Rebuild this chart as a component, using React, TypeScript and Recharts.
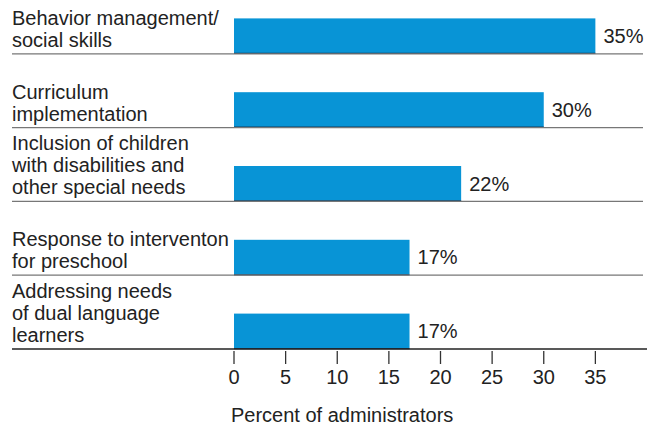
import React from 'react';
import { BarChart, Bar, XAxis, YAxis, LabelList } from 'recharts';

const categories = [
  'Behavior management/\nsocial skills',
  'Curriculum\nimplementation',
  'Inclusion of children\nwith disabilities and\nother special needs',
  'Response to interventon\nfor preschool',
  'Addressing needs\nof dual language\nlearners',
];
const values = [35, 30, 22, 17, 17];
const xTicks = [0, 5, 10, 15, 20, 25, 30, 35];
const axisTitle = 'Percent of administrators';

const data = categories.map((name, i) => ({ name, value: values[i] }));

const FONT = '"Liberation Sans", Arial, Helvetica, sans-serif';
const BAND_HALF = 36.9;
const BAR_SIZE = 35;
const SHIFT = BAND_HALF - BAR_SIZE / 2;
const BAR_COLOR = '#0894d6';
const TEXT = '#222';

const YTick = (props: any) => {
  const { y, payload } = props;
  const lines = String(payload.value).split('\n');
  const bottom = y + BAND_HALF;
  const isLast = payload.value === categories[categories.length - 1];
  return (
    <g>
      <line x1={12} x2={isLast ? 234 : 643} y1={bottom} y2={bottom} stroke={isLast ? '#222' : '#777'} strokeWidth={1.3} />
      <text fontSize={20} fill={TEXT} fontFamily={FONT}>
        {lines.map((l, i) => (
          <tspan key={i} x={12} y={bottom - 7 - (lines.length - 1 - i) * 22}>{l}</tspan>
        ))}
      </text>
    </g>
  );
};

const XTick = (props: any) => {
  const { x, y, payload } = props;
  return (
    <g>
      <line x1={x} x2={x} y1={y - 19} y2={y - 6} stroke="#333" strokeWidth={1.3} />
      <text x={x} y={y} dy="0.71em" textAnchor="middle" fontSize={20} fill={TEXT} fontFamily={FONT}>{payload.value}</text>
    </g>
  );
};

const BarShape = (p: any) => (
  <g>
    <rect x={p.x} y={p.y + SHIFT} width={p.width} height={p.height} fill={BAR_COLOR} />
    <line x1={p.x} x2={p.x + p.width} y1={p.y + SHIFT + p.height} y2={p.y + SHIFT + p.height} stroke="#163d5c" strokeWidth={1.3} />
  </g>
);

const ValueLabel = (p: any) => (
  <text x={p.x + p.width + 8} y={p.y + SHIFT + p.height / 2} dy="0.35em" fontSize={20} fill={TEXT} fontFamily={FONT}>
    {p.value}%
  </text>
);

const AxisTitle = (p: any) => {
  const vb = p.viewBox || {};
  return (
    <text x={(vb.x ?? 234) - 3} y={(vb.y ?? 349) + 73} fontSize={20} fill={TEXT} fontFamily={FONT}>
      {axisTitle}
    </text>
  );
};

export default function App() {
  return (
    <div style={{ position: 'absolute', left: 0, top: 0, background: '#fff' }}>
      <BarChart
        width={652}
        height={431}
        data={data}
        layout="vertical"
        margin={{ top: -20, right: 5, left: 0, bottom: 0 }}
        barSize={BAR_SIZE}
      >
        <XAxis
          type="number"
          domain={[0, 40]}
          ticks={xTicks}
          height={82}
          axisLine={{ stroke: '#222', strokeWidth: 1.5 }}
          tickLine={false}
          tickSize={14}
          tickMargin={7}
          tick={<XTick />}
          label={{ value: axisTitle, content: <AxisTitle /> }}
        />
        <YAxis
          type="category"
          dataKey="name"
          width={234}
          axisLine={false}
          tickLine={false}
          interval={0}
          tick={<YTick />}
        />
        <Bar dataKey="value" shape={<BarShape />} isAnimationActive={false}>
          <LabelList dataKey="value" content={<ValueLabel />} />
        </Bar>
      </BarChart>
    </div>
  );
}
